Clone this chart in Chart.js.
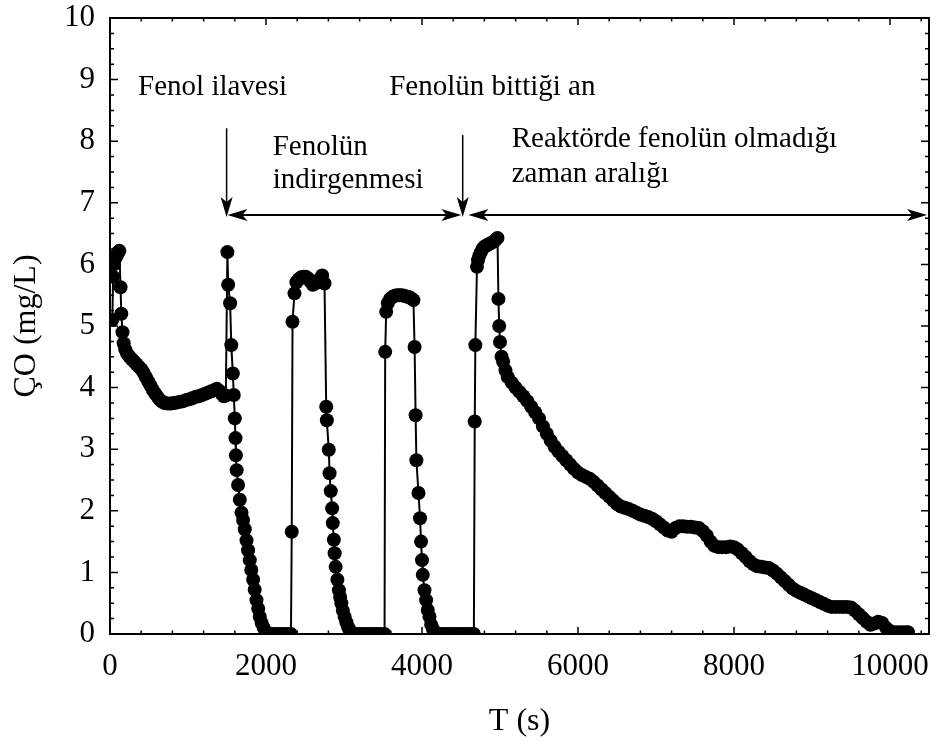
<!DOCTYPE html>
<html>
<head>
<meta charset="utf-8">
<title>ÇO (mg/L)</title>
<script src="https://cdn.jsdelivr.net/npm/chart.js@4.4.1/dist/chart.umd.min.js"></script>
<style>
  html, body { margin: 0; padding: 0; background: #fff; }
  #chart { display: block; }
</style>
</head>
<body>
<canvas id="chart" width="936" height="742"></canvas>
<script>
// time (s) and dissolved oxygen (mg/L) readings
const TIME_S = [
  30, 40, 50, 60, 75, 90, 105, 120, 135, 145, 160, 175, 195, 220, 250, 280, 310, 340, 370, 400,
  430, 460, 490, 520, 550, 580, 610, 640, 670, 700, 740, 780, 820, 860, 900, 940, 980, 1020, 1060, 1100,
  1140, 1180, 1220, 1260, 1300, 1340, 1370, 1400, 1430, 1460, 1485,
  1505, 1515, 1540, 1555, 1575, 1587, 1600, 1609, 1614, 1624, 1642, 1664, 1686, 1706, 1728, 1750, 1770, 1792, 1812,
  1835, 1855, 1878, 1900, 1920, 1945, 1970, 1995, 2020, 2050, 2090, 2130, 2170, 2210, 2250, 2290, 2320,
  2330, 2340, 2365, 2390, 2420, 2450, 2480, 2510, 2540, 2570, 2600, 2630, 2660, 2690, 2720, 2750,
  2772, 2780, 2805, 2815, 2830, 2848, 2856, 2870, 2880, 2893, 2915, 2935, 2950, 2966, 2985, 3008, 3030, 3050,
  3070, 3094, 3120, 3160, 3200, 3240, 3280, 3320, 3360, 3400, 3440, 3480, 3520,
  3528, 3541, 3562, 3590, 3620, 3650, 3680, 3710, 3740, 3770, 3800, 3830, 3860, 3890,
  3905, 3918, 3928, 3955, 3975, 3988, 4000, 4010, 4032, 4053, 4074, 4096, 4117, 4140, 4160, 4190,
  4230, 4270, 4310, 4350, 4390, 4430, 4470, 4510, 4550, 4590, 4630, 4665,
  4676, 4684, 4705, 4718, 4735, 4755, 4780, 4805, 4830, 4860, 4890, 4920, 4945, 4968,
  4980, 4990, 5000, 5020, 5040, 5070, 5100, 5150, 5200, 5250, 5300, 5350, 5400, 5450, 5500, 5550, 5600, 5650,
  5700, 5750, 5800, 5850, 5900, 5950, 6000, 6050, 6100, 6150, 6200, 6250, 6300, 6350, 6400, 6450, 6500, 6550,
  6600, 6650, 6700, 6750, 6800, 6850, 6900, 6950, 7000, 7050, 7100, 7150, 7200, 7250, 7300, 7350, 7400, 7450,
  7500, 7550, 7600, 7650, 7700, 7750, 7800, 7850, 7900, 7950, 8000, 8050, 8100, 8150, 8200, 8250, 8300, 8350,
  8400, 8450, 8500, 8550, 8600, 8650, 8700, 8750, 8800, 8850, 8900, 8950, 9000, 9050, 9100, 9150, 9200, 9250,
  9300, 9350, 9400, 9450, 9500, 9550, 9600, 9650, 9700, 9750, 9800, 9850, 9900, 9950, 10000, 10050, 10100, 10150,
  10200, 10230
];
const DO_MG_L = [
  5.10, 5.80, 6.00, 6.08, 6.12, 6.15, 6.20, 6.22, 5.63, 5.20, 4.90, 4.72, 4.62, 4.55, 4.50, 4.46, 4.42, 4.38, 4.34, 4.30,
  4.24, 4.17, 4.10, 4.03, 3.96, 3.90, 3.85, 3.80, 3.77, 3.75, 3.74, 3.74, 3.75, 3.76, 3.77, 3.78, 3.80, 3.81, 3.83, 3.85,
  3.86, 3.88, 3.90, 3.92, 3.94, 3.96, 3.98, 3.95, 3.90, 3.86, 3.87,
  6.20, 5.67, 5.37, 4.69, 4.23, 3.88, 3.50, 3.18, 2.90, 2.66, 2.42, 2.18, 1.97, 1.85, 1.70, 1.52, 1.36, 1.20, 1.04,
  0.88, 0.72, 0.55, 0.41, 0.28, 0.18, 0.10, 0.04, 0.01, 0, 0, 0, 0, 0, 0, 0, 0,
  1.66, 5.07, 5.53, 5.71, 5.76, 5.79, 5.80, 5.80, 5.77, 5.72, 5.67, 5.69, 5.72, 5.76, 5.82, 5.69,
  3.69, 3.47, 2.99, 2.61, 2.32, 2.04, 1.80, 1.53, 1.31, 1.09, 0.88, 0.71, 0.60, 0.50, 0.38, 0.28, 0.19, 0.12,
  0.07, 0.03, 0.01, 0, 0, 0, 0, 0, 0, 0, 0, 0, 0,
  4.58, 5.23, 5.37, 5.44, 5.47, 5.49, 5.50, 5.50, 5.50, 5.49, 5.48, 5.47, 5.45, 5.42,
  4.66, 3.55, 2.82, 2.29, 1.88, 1.50, 1.20, 0.96, 0.71, 0.55, 0.39, 0.28, 0.15, 0.08, 0.03, 0.01,
  0, 0, 0, 0, 0, 0, 0, 0, 0, 0, 0, 0,
  3.45, 4.69, 5.96, 6.07, 6.14, 6.20, 6.26, 6.29, 6.31, 6.33, 6.35, 6.37, 6.40, 6.43,
  5.44, 5.00, 4.74, 4.50, 4.42, 4.28, 4.17, 4.08, 4.00, 3.93, 3.86, 3.78, 3.69, 3.60, 3.50, 3.37, 3.25, 3.14,
  3.04, 2.96, 2.89, 2.82, 2.75, 2.68, 2.62, 2.58, 2.55, 2.52, 2.47, 2.41, 2.35, 2.29, 2.23, 2.17, 2.11, 2.07,
  2.05, 2.03, 2.00, 1.97, 1.94, 1.92, 1.90, 1.87, 1.83, 1.78, 1.73, 1.68, 1.66, 1.72, 1.75, 1.75, 1.74, 1.74,
  1.73, 1.72, 1.67, 1.60, 1.50, 1.43, 1.41, 1.41, 1.41, 1.42, 1.41, 1.37, 1.31, 1.25, 1.18, 1.13, 1.10, 1.09,
  1.08, 1.07, 1.03, 0.98, 0.92, 0.86, 0.80, 0.74, 0.70, 0.67, 0.64, 0.61, 0.58, 0.55, 0.52, 0.49, 0.46, 0.44,
  0.44, 0.44, 0.44, 0.44, 0.43, 0.38, 0.32, 0.26, 0.20, 0.15, 0.17, 0.20, 0.18, 0.10, 0.05, 0.03, 0.03, 0.03,
  0.03, 0.03
];

const X_TICKS = [0, 2000, 4000, 6000, 8000, 10000];
const Y_TICKS = [0, 1, 2, 3, 4, 5, 6, 7, 8, 9, 10];
const X_MAX = 10500;
const X_MINOR = 400;
const Y_MINOR = 0.25;

// text notes on the plot, anchored in data units (left edge, baseline)
const NOTES = [
  { text: 'Fenol ilavesi', t: 360, co: 8.75 },
  { text: 'Fenolün bittiği an', t: 3580, co: 8.75 },
  { text: 'Fenolün', t: 2085, co: 7.78 },
  { text: 'indirgenmesi', t: 2085, co: 7.24 },
  { text: 'Reaktörde fenolün olmadığı', t: 5150, co: 7.9 },
  { text: 'zaman aralığı', t: 5150, co: 7.34 }
];
// single arrows pointing down at an event, double arrows spanning an interval
const DOWN_ARROWS = [
  { t: 1495, from: 8.21, to: 6.77 },
  { t: 4522, from: 8.1, to: 6.77 }
];
const SPAN_ARROWS = [
  { co: 6.8, from: 1505, to: 4505 },
  { co: 6.8, from: 4595, to: 10475 }
];

const SERIF = "'Liberation Serif', 'Times New Roman', serif";

function arrowHead(ctx, x, y, angle) {
  const len = 20, half = 6, notch = 5;
  ctx.save();
  ctx.translate(x, y);
  ctx.rotate(angle);
  ctx.beginPath();
  ctx.moveTo(0, 0);
  ctx.lineTo(-len, -half);
  ctx.lineTo(-len + notch, 0);
  ctx.lineTo(-len, half);
  ctx.closePath();
  ctx.fill();
  ctx.restore();
}

// frame with inward ticks on all four sides
const frameTicks = {
  id: 'frameTicks',
  afterDraw(chart) {
    const { ctx, chartArea: a, scales: { x, y } } = chart;
    ctx.save();
    ctx.strokeStyle = '#000';
    ctx.lineWidth = 1.5;
    ctx.beginPath();
    for (let i = 0; i * X_MINOR <= X_MAX; i++) {
      const v = i * X_MINOR;
      const px = x.getPixelForValue(v);
      const len = v % 2000 === 0 ? 7 : 3.5;
      ctx.moveTo(px, a.bottom); ctx.lineTo(px, a.bottom - len);
      ctx.moveTo(px, a.top); ctx.lineTo(px, a.top + len);
    }
    for (let i = 0; i <= 40; i++) {
      const py = y.getPixelForValue(i * Y_MINOR);
      const len = i % 4 === 0 ? 8 : 4;
      ctx.moveTo(a.left, py); ctx.lineTo(a.left + len, py);
      ctx.moveTo(a.right, py); ctx.lineTo(a.right - len, py);
    }
    ctx.stroke();
    ctx.lineWidth = 2;
    ctx.strokeRect(a.left, a.top, a.width, a.height);
    ctx.restore();
  }
};

const notes = {
  id: 'notes',
  afterDraw(chart) {
    const { ctx, scales: { x, y } } = chart;
    ctx.save();
    ctx.fillStyle = '#000';
    ctx.strokeStyle = '#000';
    ctx.font = '29px ' + SERIF;
    ctx.textBaseline = 'alphabetic';
    ctx.textAlign = 'left';
    NOTES.forEach(n => ctx.fillText(n.text, x.getPixelForValue(n.t), y.getPixelForValue(n.co)));

    ctx.lineWidth = 1.5;
    DOWN_ARROWS.forEach(a => {
      const px = x.getPixelForValue(a.t);
      const y0 = y.getPixelForValue(a.from), y1 = y.getPixelForValue(a.to);
      ctx.beginPath(); ctx.moveTo(px, y0); ctx.lineTo(px, y1 - 14); ctx.stroke();
      arrowHead(ctx, px, y1, Math.PI / 2);
    });
    ctx.lineWidth = 2;
    SPAN_ARROWS.forEach(a => {
      const py = y.getPixelForValue(a.co);
      const x0 = x.getPixelForValue(a.from), x1 = x.getPixelForValue(a.to);
      ctx.beginPath(); ctx.moveTo(x0 + 14, py); ctx.lineTo(x1 - 14, py); ctx.stroke();
      arrowHead(ctx, x0, py, Math.PI);
      arrowHead(ctx, x1, py, 0);
    });
    ctx.restore();
  }
};

const points = TIME_S.map((t, i) => ({ x: t, y: DO_MG_L[i] }));

new Chart(document.getElementById('chart'), {
  type: 'scatter',
  data: {
    datasets: [{
      data: points,
      showLine: true,
      borderColor: '#000',
      borderWidth: 2,
      pointRadius: 7,
      pointBackgroundColor: '#000',
      pointBorderWidth: 0,
      clip: 0
    }]
  },
  options: {
    responsive: false,
    animation: false,
    devicePixelRatio: 1,
    layout: { padding: { left: 0, top: 18, right: 4, bottom: 0 } },
    plugins: { legend: { display: false }, tooltip: { enabled: false } },
    scales: {
      x: {
        type: 'linear',
        min: 0,
        max: X_MAX,
        afterFit: s => {
          s.height = 108;
          s.paddingLeft = 0;
          s.paddingRight = 0;
        },
        afterBuildTicks: s => { s.ticks = X_TICKS.map(v => ({ value: v })); },
        grid: { display: false, drawTicks: false },
        border: { display: false },
        ticks: {
          color: '#000',
          padding: 14,
          maxRotation: 0,
          font: { family: SERIF, size: 31 },
          callback: v => String(v)
        },
        title: {
          display: true,
          text: 'T (s)',
          color: '#000',
          font: { family: SERIF, size: 32 },
          padding: { top: 0, bottom: 1 }
        }
      },
      y: {
        type: 'linear',
        min: 0,
        max: 10,
        afterFit: s => {
          s.width = 110;
          s.paddingTop = 0;
          s.paddingBottom = 0;
        },
        afterBuildTicks: s => { s.ticks = Y_TICKS.map(v => ({ value: v })); },
        grid: { display: false, drawTicks: false },
        border: { display: false },
        ticks: {
          color: '#000',
          padding: 15,
          font: { family: SERIF, size: 31 },
          callback: v => String(v)
        },
        title: {
          display: true,
          text: 'ÇO (mg/L)',
          color: '#000',
          font: { family: SERIF, size: 32 },
          padding: { top: 7, bottom: 0 }
        }
      }
    }
  },
  plugins: [frameTicks, notes]
});
</script>
</body>
</html>
